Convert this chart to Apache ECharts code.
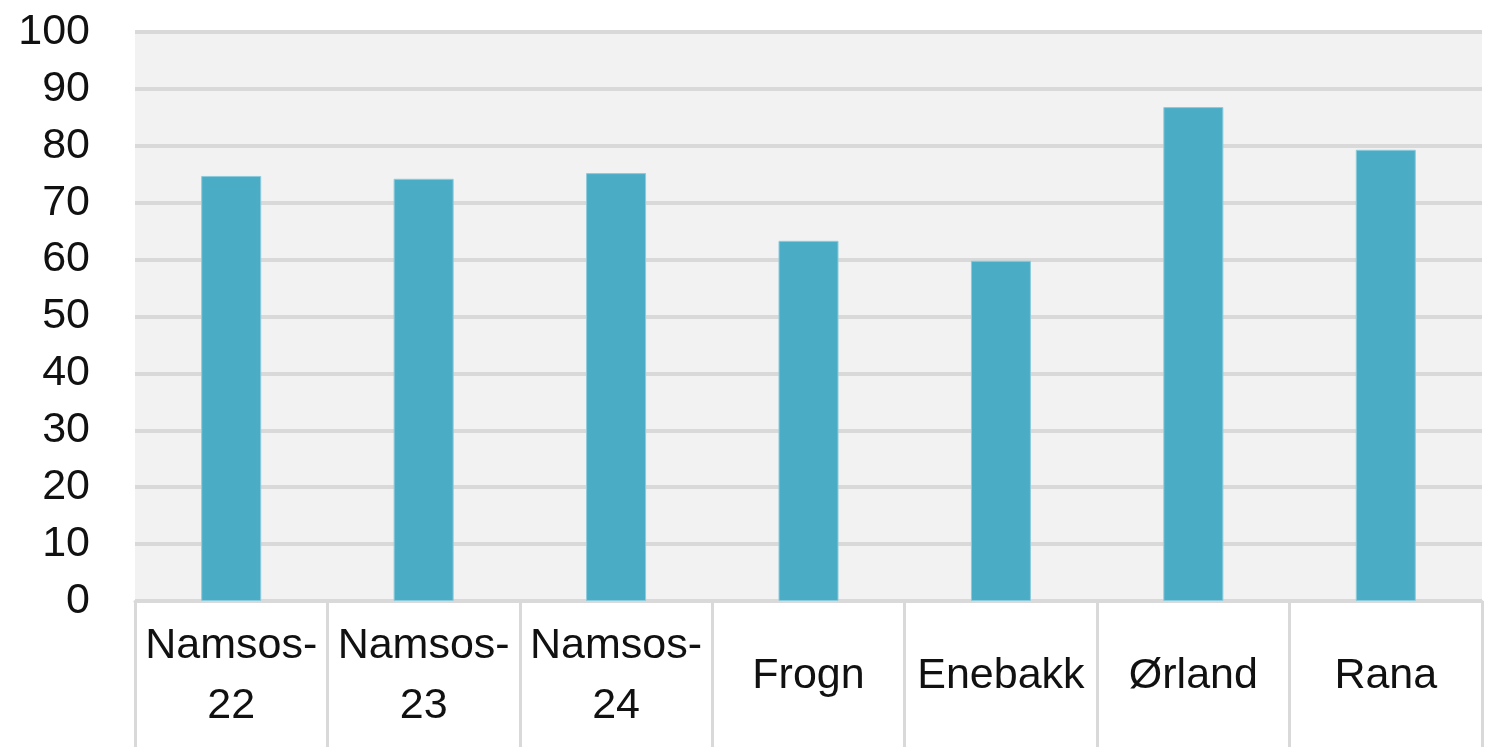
<!DOCTYPE html>
<html>
<head>
<meta charset="utf-8">
<script src="https://cdn.jsdelivr.net/npm/echarts@6/dist/echarts.min.js"></script>
<style>html,body{margin:0;padding:0;background:#fff;}#c{width:1494px;height:747px;}</style>
</head>
<body>
<div id="c"></div>
<script>
const categories = ["Namsos-\n22", "Namsos-\n23", "Namsos-\n24", "Frogn", "Enebakk", "Ørland", "Rana"];
const values = [74.7, 74.2, 75.2, 63.3, 59.8, 86.8, 79.3];
const yTicks = [0, 100, 10];

const chart = echarts.init(document.getElementById('c'));
chart.setOption({
  animation: false,
  grid: {left: 135, right: 12, top: 32, bottom: 146, show: true, backgroundColor: '#f2f2f2', borderWidth: 0},
  xAxis: {
    type: 'category',
    data: categories,
    axisLine: {show: true, lineStyle: {color: '#d9d9d9', width: 3}},
    axisTick: {show: true, length: 146, lineStyle: {color: '#d9d9d9', width: 3}},
    axisLabel: {
      fontFamily: 'Liberation Sans', fontSize: 43, color: '#111',
      lineHeight: 60, margin: 75, verticalAlign: 'middle', interval: 0
    }
  },
  yAxis: {
    type: 'value', min: yTicks[0], max: yTicks[1], interval: yTicks[2],
    axisLine: {show: false}, axisTick: {show: false},
    axisLabel: {fontFamily: 'Liberation Sans', fontSize: 43, color: '#111', margin: 45},
    splitLine: {lineStyle: {color: '#d9d9d9', width: 4}}
  },
  series: [{
    type: 'bar', data: values, barWidth: 60,
    itemStyle: {color: '#4bacc6', borderColor: '#8ccbdc', borderWidth: 1}
  }]
});
</script>
</body>
</html>
